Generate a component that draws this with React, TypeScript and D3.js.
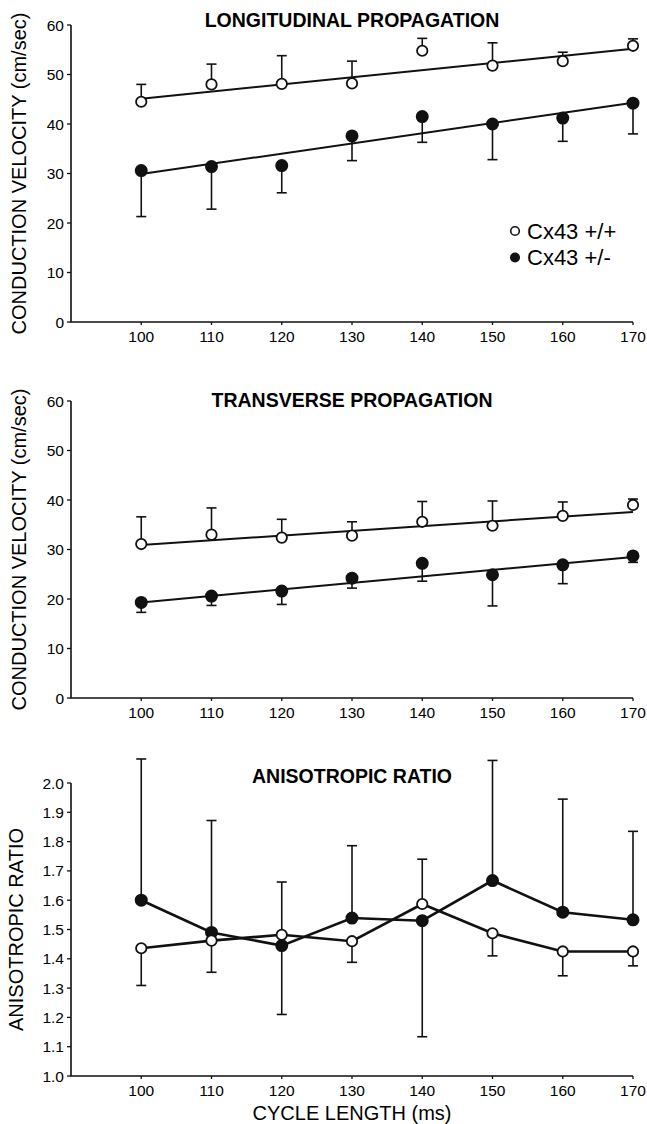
import * as d3 from "d3";

// cycle length (ms)
const cycleLengths = [100, 110, 120, 130, 140, 150, 160, 170];
const xTicks = [100, 110, 120, 130, 140, 150, 160, 170];

// longitudinal conduction velocity (cm/sec)
const longWt = [44.5, 48.0, 48.1, 48.2, 54.8, 51.8, 52.7, 55.8];
const longWtErr = [3.5, 4.1, 5.7, 4.5, 2.5, 4.6, 1.8, 1.4];
const longHet = [30.6, 31.4, 31.6, 37.6, 41.5, 40.0, 41.2, 44.2];
const longHetErr = [-9.3, -8.6, -5.5, -5.0, -5.2, -7.2, -4.7, -6.2];
const longWtFit = [45.1, 55.2]; // at 100 and 170 ms
const longHetFit = [29.9, 44.3];

// transverse conduction velocity (cm/sec)
const transWt = [31.1, 33.0, 32.4, 32.8, 35.6, 34.8, 36.8, 39.0];
const transWtErr = [5.5, 5.4, 3.7, 2.8, 4.1, 5.0, 2.8, 1.2];
const transHet = [19.3, 20.6, 21.6, 24.2, 27.2, 24.9, 26.9, 28.7];
const transHetErr = [-2.0, -1.9, -2.7, -2.0, -3.6, -6.3, -3.8, -1.3];
const transWtFit = [30.9, 37.6];
const transHetFit = [19.3, 28.5];

// anisotropic ratio
const ratioWt = [1.436, 1.462, 1.482, 1.46, 1.587, 1.487, 1.425, 1.425];
const ratioWtErr = [-0.127, -0.108, 0.18, -0.072, 0.153, -0.077, -0.083, -0.049];
const ratioHet = [1.6, 1.49, 1.445, 1.539, 1.53, 1.667, 1.559, 1.533];
const ratioHetErr = [0.482, 0.382, -0.235, 0.247, -0.396, 0.41, 0.386, 0.302];

const fitEnds = [100, 170];
const velocityTicks = [0, 10, 20, 30, 40, 50, 60];
const ratioTicks = [1.0, 1.1, 1.2, 1.3, 1.4, 1.5, 1.6, 1.7, 1.8, 1.9, 2.0];

const FONT = "'Liberation Sans', Arial, Helvetica, sans-serif";

const x = d3.scaleLinear().domain([90, 170]).range([71, 633]);

type Series = { values: number[]; err: number[]; filled: boolean; fit?: number[]; connect?: boolean };

function Panel({ title, titleY, yLabel, yLabelX, y, ticks, fmt, series }: {
  title: string; titleY: number; yLabel: string; yLabelX: number;
  y: d3.ScaleLinear<number, number>; ticks: number[]; fmt: (v: number) => string; series: Series[];
}) {
  const [y0, y1] = y.range();
  const x0 = x.range()[0];
  const x1 = x.range()[1];
  const fitLine = d3.line<number>().x((d, i) => x(fitEnds[i])).y((d) => y(d));
  const dataLine = d3.line<number>().x((d, i) => x(cycleLengths[i])).y((d) => y(d));
  return (
    <g>
      <text x={(x0 + x1) / 2} y={titleY} textAnchor="middle" fontFamily={FONT}
        fontWeight="bold" fontSize={19.5}>{title}</text>
      <text transform={`translate(${yLabelX},${(y0 + y1) / 2}) rotate(-90)`} textAnchor="middle"
        fontFamily={FONT} fontSize={20}>{yLabel}</text>
      {/* axes */}
      <path d={`M${x0},${y1}V${y0}H${x1}`} fill="none" stroke="#111" strokeWidth={1.6} />
      {ticks.map((t) => (
        <g key={t}>
          <line x1={x0 - 4} x2={x0} y1={y(t)} y2={y(t)} stroke="#111" strokeWidth={1.3} />
          <text x={x0 - 7} y={y(t)} dy="0.36em" textAnchor="end" fontFamily={FONT} fontSize={15.5}>{fmt(t)}</text>
        </g>
      ))}
      {xTicks.map((t) => (
        <g key={t}>
          <line x1={x(t)} x2={x(t)} y1={y0} y2={y0 + 3} stroke="#111" strokeWidth={1.3} />
          <text x={x(t)} y={y0 + 20} textAnchor="middle" fontFamily={FONT} fontSize={15.5}>{t}</text>
        </g>
      ))}
      {/* fits / connecting lines */}
      {series.map((s, si) => s.fit ? (
        <path key={"f" + si} d={fitLine(s.fit) || ""} fill="none" stroke="#111" strokeWidth={2} />
      ) : s.connect ? (
        <path key={"f" + si} d={dataLine(s.values) || ""} fill="none" stroke="#111" strokeWidth={2.6} />
      ) : null)}
      {/* error bars */}
      {series.map((s, si) => s.values.map((v, i) => {
        const cx = x(cycleLengths[i]);
        const tip = y(v + s.err[i]);
        return (
          <g key={`e${si}-${i}`} stroke="#111" strokeWidth={1.6}>
            <line x1={cx} x2={cx} y1={y(v)} y2={tip} />
            <line x1={cx - 5} x2={cx + 5} y1={tip} y2={tip} />
          </g>
        );
      }))}
      {/* points */}
      {series.map((s, si) => s.values.map((v, i) => (
        <circle key={`p${si}-${i}`} cx={x(cycleLengths[i])} cy={y(v)} r={s.filled ? 5.6 : 5.2}
          fill={s.filled ? "#111" : "#fff"} stroke="#111" strokeWidth={1.8} />
      )))}
    </g>
  );
}

export default function App() {
  const yLong = d3.scaleLinear().domain([0, 60]).range([322, 25]);
  const yTrans = d3.scaleLinear().domain([0, 60]).range([698, 401]);
  const yRatio = d3.scaleLinear().domain([1, 2]).range([1076, 783]);
  const intFmt = d3.format("d");
  const ratioFmt = d3.format(".1f");
  return (
    <svg width={647} height={1124} style={{ position: "absolute", left: 0, top: 0, background: "#fff" }}>
      <rect width={647} height={1124} fill="#fff" />
      <Panel title="LONGITUDINAL PROPAGATION" titleY={27} yLabel="CONDUCTION VELOCITY (cm/sec)" yLabelX={26}
        y={yLong} ticks={velocityTicks} fmt={intFmt}
        series={[
          { values: longWt, err: longWtErr, filled: false, fit: longWtFit },
          { values: longHet, err: longHetErr, filled: true, fit: longHetFit },
        ]} />
      <Panel title="TRANSVERSE PROPAGATION" titleY={407} yLabel="CONDUCTION VELOCITY (cm/sec)" yLabelX={26}
        y={yTrans} ticks={velocityTicks} fmt={intFmt}
        series={[
          { values: transWt, err: transWtErr, filled: false, fit: transWtFit },
          { values: transHet, err: transHetErr, filled: true, fit: transHetFit },
        ]} />
      <Panel title="ANISOTROPIC RATIO" titleY={783} yLabel="ANISOTROPIC RATIO" yLabelX={23}
        y={yRatio} ticks={ratioTicks} fmt={ratioFmt}
        series={[
          { values: ratioHet, err: ratioHetErr, filled: true, connect: true },
          { values: ratioWt, err: ratioWtErr, filled: false, connect: true },
        ]} />
      {/* legend */}
      <circle cx={515} cy={231} r={4.3} fill="#fff" stroke="#111" strokeWidth={1.6} />
      <text x={527} y={239} fontFamily={FONT} fontSize={22}>Cx43 +/+</text>
      <circle cx={515} cy={257.5} r={5} fill="#111" />
      <text x={527} y={265} fontFamily={FONT} fontSize={22}>Cx43 +/-</text>
      <text x={(71 + 633) / 2} y={1120} textAnchor="middle" fontFamily={FONT} fontSize={20}>CYCLE LENGTH (ms)</text>
    </svg>
  );
}
